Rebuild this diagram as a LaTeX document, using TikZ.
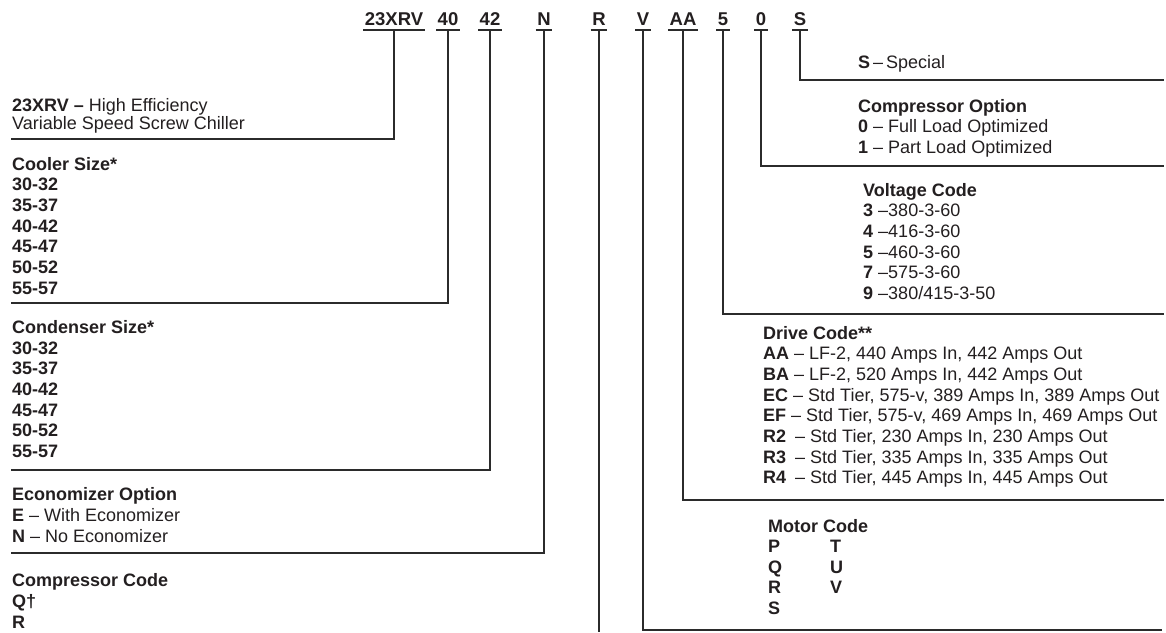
\documentclass[tikz,border=0pt]{standalone}
\usepackage{fontspec}
\setmainfont{Liberation Sans}

\definecolor{ink}{HTML}{231F20}
\definecolor{rulegray}{HTML}{2B2B2B}

\tikzset{
  code/.style={anchor=base, inner xsep=1.5pt, inner ysep=0pt,
    font=\fontsize{18.5}{20}\selectfont\bfseries, text=ink},
  % base of a multi-line block = baseline of its last line
  block/.style={anchor=base west, align=left, inner sep=0pt,
    font=\fontsize{18}{20.7}\selectfont, text=ink},
  leader/.style={draw=rulegray, line width=2.6pt},
}

\begin{document}
\begin{tikzpicture}[x=1pt, y=-1pt]
  \useasboundingbox (0,0) rectangle (1166,632);

  % model number digits
  \node [code] (c23) at (394,25) {23XRV};
  \node [code] (c40) at (448,25) {40};
  \node [code] (c42) at (490,25) {42};
  \node [code] (cN) at (544,25) {N};
  \node [code] (cR) at (599,25) {R};
  \node [code] (cV) at (643,25) {V};
  \node [code] (cAA) at (683,25) {AA};
  \node [code] (c5) at (723,25) {5};
  \node [code] (c0) at (761,25) {0};
  \node [code] (cS) at (800,25) {S};

  \foreach \c in {c23,c40,c42,cN,cR,cV,cAA,c5,c0,cS}
    \draw [leader] ([yshift=-5pt]\c.base west) -- ([yshift=-5pt]\c.base east);

  % left hand descriptions
  \node [block, font=\fontsize{18}{18.6}\selectfont] (model) at (12,129.6)
    {\textbf{23XRV –} High Efficiency\\Variable Speed Screw Chiller};
  \node [block, font=\fontsize{18}{20.7}\selectfont\bfseries] (cooler) at (12,294.2)
    {Cooler Size*\\30-32\\35-37\\40-42\\45-47\\50-52\\55-57};
  \node [block, font=\fontsize{18}{20.7}\selectfont\bfseries] (condenser) at (12,457.5)
    {Condenser Size*\\30-32\\35-37\\40-42\\45-47\\50-52\\55-57};
  \node [block] (econ) at (12,542.1)
    {\textbf{Economizer Option}\\\textbf{E} – With Economizer\\\textbf{N} – No Economizer};
  \node [block, font=\fontsize{18}{20.7}\selectfont\bfseries] (comp) at (12,628.1)
    {Compressor Code\\Q†\\R};

  % right hand descriptions
  \node [block] (special) at (858,68) {\textbf{S}\,–\,Special};
  \node [block, font=\fontsize{18}{20.5}\selectfont] (option) at (858,153)
    {\textbf{Compressor Option}\\\textbf{0} – Full Load Optimized\\\textbf{1} – Part Load Optimized};
  \node [block] (voltage) at (863,299.5)
    {\textbf{Voltage Code}\\\textbf{3} –380-3-60\\\textbf{4} –416-3-60\\\textbf{5} –460-3-60\\\textbf{7} –575-3-60\\\textbf{9} –380/415-3-50};
  \node [block] (drive) at (763,483.9)
    {\textbf{Drive Code**}\\
     \textbf{AA} – LF-2, 440 Amps In, 442 Amps Out\\
     \textbf{BA} – LF-2, 520 Amps In, 442 Amps Out\\
     \textbf{EC} – Std Tier, 575-v, 389 Amps In, 389 Amps Out\\
     \textbf{EF} – Std Tier, 575-v, 469 Amps In, 469 Amps Out\\
     \textbf{R2}\hspace{4pt} – Std Tier, 230 Amps In, 230 Amps Out\\
     \textbf{R3}\hspace{4pt} – Std Tier, 335 Amps In, 335 Amps Out\\
     \textbf{R4}\hspace{4pt} – Std Tier, 445 Amps In, 445 Amps Out};
  \node [block, font=\fontsize{18}{20.6}\selectfont\bfseries] (motor) at (768,614.4)
    {Motor Code\\\makebox[62pt][l]{P}T\\\makebox[62pt][l]{Q}U\\\makebox[62pt][l]{R}V\\S};

  % leader ends
  \coordinate (e23) at (11,139);
  \coordinate (e40) at (11,303);
  \coordinate (e42) at (11,470);
  \coordinate (eN) at (11,553);
  \coordinate (eR) at (0,632);
  \coordinate (eV) at (1162,630);
  \coordinate (eAA) at (1164,500);
  \coordinate (e5) at (1164,314);
  \coordinate (e0) at (1164,166);
  \coordinate (eS) at (1164,80);

  \draw [leader] ([yshift=-5pt]c23.base) |- (e23);
  \draw [leader] ([yshift=-5pt]c40.base) |- (e40);
  \draw [leader] ([yshift=-5pt]c42.base) |- (e42);
  \draw [leader] ([yshift=-5pt]cN.base) |- (eN);
  \draw [leader] ([yshift=-5pt]cR.base) -- (cR.base |- eR);
  \draw [leader] ([yshift=-5pt]cV.base) |- (eV);
  \draw [leader] ([yshift=-5pt]cAA.base) |- (eAA);
  \draw [leader] ([yshift=-5pt]c5.base) |- (e5);
  \draw [leader] ([yshift=-5pt]c0.base) |- (e0);
  \draw [leader] ([yshift=-5pt]cS.base) |- (eS);
\end{tikzpicture}
\end{document}
